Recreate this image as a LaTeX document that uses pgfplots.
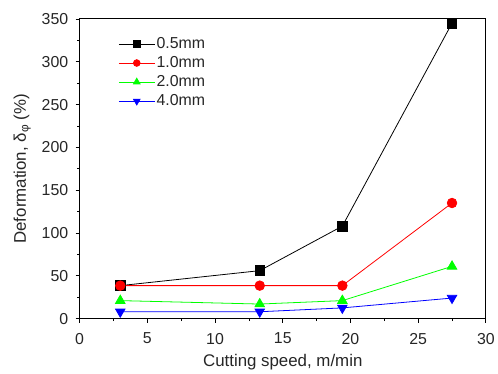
\documentclass[border=0pt]{standalone}
\usepackage{pgfplots}
\pgfplotsset{compat=1.18}
\usepackage{fontspec}
\setmainfont{Liberation Sans}
\newcommand\tfont{\fontsize{16}{18}\selectfont}
\begin{document}
\begin{tikzpicture}[x=1bp,y=1bp]
\begin{axis}[
  name=ax,
  scale only axis,
  width=408bp, height=301bp,
  xmin=0, xmax=30, ymin=0, ymax=350,
  xtick={0,5,...,30}, ytick={0,50,...,350},
  minor x tick num=1, minor y tick num=1,
  tick align=outside,
  xtick pos=bottom, ytick pos=left,
  major tick length=4bp, minor tick length=2.5bp,
  tick style={black, line width=0.8pt},
  axis line style={line width=0.9pt},
  xticklabel={\tfont\pgfmathprintnumber[assume math mode=true]{\tick}},
  yticklabel={\tfont\pgfmathprintnumber[assume math mode=true]{\tick}},
  tick label style={text=black!85},
  xticklabel style={yshift=-7bp},
  yticklabel style={xshift=-4bp},
  label style={font=\fontsize{17}{19}\selectfont, text=black!85},
  xlabel={Cutting speed, m/min},
  ylabel={Deformation, δ\textsubscript{φ} (\%)},
  xlabel style={yshift=-3bp},
  ylabel style={yshift=4bp},
  legend style={draw=none, fill=none, at={(0.095,0.943)}, anchor=north west,
    font=\fontsize{16}{18}\selectfont, row sep=3.5bp, text=black!85,
    inner sep=0pt, nodes={inner sep=1.5bp}},
  legend image code/.code={\draw[mark repeat=2,mark phase=2,every mark/.append style={scale=0.7}] plot coordinates {(0bp,0bp) (18bp,0bp) (36bp,0bp)};},
  legend cell align=left,
  every axis plot/.append style={line width=0.8pt},
]
\addplot[black, mark=square*, mark size=4.8bp] coordinates {(3,38.5) (13.3,56) (19.4,108) (27.5,345)};
\addlegendentry{0.5mm}
\addplot[red, mark=*, mark size=4.8bp] coordinates {(3,38.5) (13.3,38.5) (19.4,38.5) (27.5,135)};
\addlegendentry{1.0mm}
\addplot[green, mark=triangle*, mark size=5.5bp] coordinates {(3,21) (13.3,17) (19.4,21) (27.5,61)};
\addlegendentry{2.0mm}
\addplot[blue, mark=triangle*, mark options={rotate=180}, mark size=5.5bp] coordinates {(3,8) (13.3,8) (19.4,12.5) (27.5,24)};
\addlegendentry{4.0mm}
\end{axis}
\path ([shift={(-80bp,-54bp)}]ax.south west) rectangle ([shift={(10bp,19bp)}]ax.north east);
\end{tikzpicture}
\end{document}
